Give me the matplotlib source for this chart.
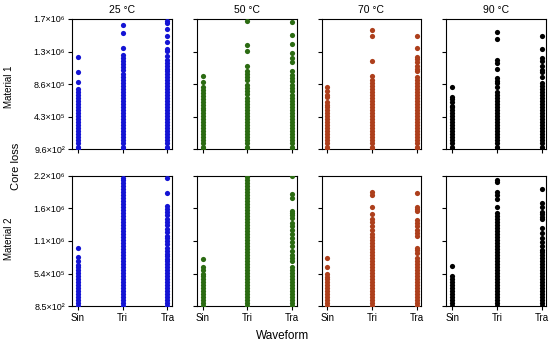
import numpy as np
import matplotlib
matplotlib.use("Agg")
import matplotlib.pyplot as plt
from matplotlib.ticker import FuncFormatter

plt.rcParams['font.family'] = ['Liberation Sans', 'DejaVu Sans']

unit = 1e5  # values below are read in units of 1e5

waveforms = ['Sin', 'Tri', 'Tra']
temps = ['25 °C', '50 °C', '70 °C', '90 °C']
materials = ['Material 1', 'Material 2']
colors = ['#1414d4', '#2b6b12', '#ad3f1c', '#000000']

# Material 1
m1_25_sin = [0.01, 0.4, 0.8, 1.2, 1.6, 2.0, 2.4, 2.8, 3.2, 3.6, 4.0, 4.4, 4.8, 5.2, 5.6, 6.0, 6.4, 6.8, 7.2, 7.6, 8.0,
             8.9, 10.2, 12.2]
m1_25_tri = [0.01, 0.4, 0.8, 1.2, 1.6, 2.0, 2.4, 2.8, 3.2, 3.6, 4.0, 4.4, 4.8, 5.2, 5.6, 6.0, 6.4, 6.8, 7.2, 7.6, 8.0,
             8.4, 8.8, 9.2, 9.6, 10.0, 10.5, 10.9, 11.3, 11.6, 12.0, 12.4, 13.4, 15.4, 16.4]
m1_25_tra = [0.01, 0.4, 0.8, 1.2, 1.6, 2.0, 2.4, 2.8, 3.2, 3.6, 4.0, 4.4, 4.8, 5.2, 5.6, 6.0, 6.4, 6.8, 7.2, 7.6, 8.0,
             8.4, 8.8, 9.2, 9.6, 10.0, 10.3, 10.6, 11.0, 11.4, 11.8, 12.3, 13.0, 13.3, 14.2, 15.0, 15.9, 16.7, 16.9]
m1_50_sin = [0.01, 0.4, 0.8, 1.2, 1.6, 2.0, 2.4, 2.8, 3.2, 3.6, 4.0, 4.4, 4.8, 5.2,
             5.5, 5.9, 6.3, 6.7, 7.1, 7.5, 7.9, 8.2, 8.9, 9.7]
m1_50_tri = [0.01, 0.4, 0.8, 1.2, 1.6, 2.0, 2.4, 2.8, 3.2, 3.6, 4.0, 4.4, 4.8, 5.2, 5.6, 6.0, 6.4, 6.8,
             7.3, 7.7, 8.1, 8.5, 9.1, 9.6, 9.9, 10.4, 11.0, 13.0, 13.8, 16.9]
m1_50_tra = [0.01, 0.4, 0.8, 1.2, 1.6, 2.0, 2.4, 2.8, 3.2, 3.6, 4.0, 4.4, 4.8, 5.2, 5.6, 6.0, 6.4, 6.8, 7.2,
             7.7, 8.1, 8.5, 9.0, 9.4, 9.8, 10.3, 11.5, 12.0, 12.7, 13.9, 15.1, 16.8]
m1_70_sin = [0.01, 0.4, 0.8, 1.2, 1.6, 2.0, 2.4, 2.8, 3.2, 3.6, 4.0, 4.4, 4.8, 5.2,
             5.6, 5.9, 6.3, 6.9, 7.2, 7.7, 8.3]
m1_70_tri = [0.01, 0.4, 0.8, 1.2, 1.6, 2.0, 2.4, 2.8, 3.2, 3.6, 4.0, 4.4, 4.8, 5.2, 5.6, 6.0, 6.4, 6.8, 7.2, 7.6, 8.0,
             8.4, 8.8, 9.2, 9.7, 11.6, 15.0, 15.8]
m1_70_tra = [0.01, 0.4, 0.8, 1.2, 1.6, 2.0, 2.4, 2.8, 3.2, 3.6, 4.0, 4.4, 4.8, 5.2, 5.6, 6.0, 6.4, 6.8, 7.2, 7.6, 8.0,
             8.4, 8.8, 9.2, 9.6, 10.3, 10.6, 11.0, 11.5, 11.9, 12.2, 13.4, 15.0]
m1_90_sin = [0.01, 0.4, 0.8, 1.2, 1.6, 2.0, 2.4, 2.8, 3.2, 3.6, 4.0, 4.4, 4.8, 5.2,
             5.6, 5.8, 6.3, 6.6, 6.9, 8.3]
m1_90_tri = [0.01, 0.4, 0.8, 1.2, 1.6, 2.0, 2.4, 2.8, 3.2, 3.6, 4.0, 4.4, 4.8, 5.2, 5.6, 6.0, 6.4, 6.8, 7.2, 7.6,
             8.2, 8.7, 9.0, 9.4, 10.6, 11.4, 11.8, 14.6, 15.5]
m1_90_tra = [0.01, 0.4, 0.8, 1.2, 1.6, 2.0, 2.4, 2.8, 3.2, 3.6, 4.0, 4.4, 4.8, 5.2, 5.6, 6.0, 6.4, 6.8, 7.2, 7.6,
             8.0, 8.4, 8.8, 9.5, 10.2, 10.5, 11.0, 11.6, 12.0, 13.2, 14.9]

# Material 2
m2_25_sin = [0.01, 0.5, 1.0, 1.5, 2.0, 2.5, 3.0, 3.5, 4.0, 4.5,
             5.0, 5.5, 6.0, 6.5, 6.9, 7.5, 8.1, 9.7]
m2_25_tri = [0.01, 0.5, 1.0, 1.5, 2.0, 2.5, 3.0, 3.5, 4.0, 4.5, 5.0, 5.5, 6.0, 6.5, 7.0, 7.5, 8.0, 8.5, 9.0, 9.5,
             10.0, 10.5, 11.0, 11.5, 12.0, 12.5, 13.0, 13.5, 14.0, 14.5, 15.0, 15.5, 16.0, 16.5, 17.0, 17.5,
             18.0, 18.5, 19.0, 19.5, 20.0, 20.5, 21.0, 21.3]
m2_25_tra = [0.01, 0.5, 1.0, 1.5, 2.0, 2.5, 3.0, 3.5, 4.0, 4.5, 5.0, 5.5, 6.0, 6.5, 7.0, 7.5,
             7.9, 8.3, 8.7, 9.2, 9.7, 10.3, 10.9, 11.3, 11.7, 12.3, 12.9, 13.5, 14.0, 14.5, 15.1, 15.7,
             16.2, 16.7, 18.8, 21.3]
m2_50_sin = [0.01, 0.5, 1.0, 1.5, 2.0, 2.5, 3.0, 3.5, 4.0, 4.5, 5.0,
             5.4, 6.0, 6.5, 7.8]
m2_50_tri = [0.01, 0.5, 1.0, 1.5, 2.0, 2.5, 3.0, 3.5, 4.0, 4.5, 5.0, 5.5, 6.0, 6.5, 7.0, 7.5, 8.0, 8.5, 9.0, 9.5,
             10.0, 10.5, 11.0, 11.5, 12.0, 12.5, 13.0, 13.5, 14.0, 14.5, 15.0, 15.5, 16.0, 16.5, 17.0, 17.5,
             18.0, 18.5, 19.0, 19.5, 20.0, 20.5, 21.0, 21.5]
m2_50_tra = [0.01, 0.5, 1.0, 1.5, 2.0, 2.5, 3.0, 3.5, 4.0, 4.5, 5.0, 5.5, 6.0, 6.5,
             7.5, 8.0, 8.5, 9.2, 10.0, 10.7, 11.4, 12.0, 12.6, 13.3, 13.9, 14.6, 15.1, 15.5, 15.9, 17.9,
             18.7, 21.6]
m2_70_sin = [0.01, 0.5, 1.0, 1.5, 2.0, 2.5, 3.0, 3.5, 4.0, 4.5,
             4.9, 5.3, 6.5, 8.0]
m2_70_tri = [0.01, 0.5, 1.0, 1.5, 2.0, 2.5, 3.0, 3.5, 4.0, 4.5, 5.0, 5.5, 6.0, 6.5, 7.0, 7.5, 8.0, 8.5, 9.0, 9.5,
             10.0, 10.5, 11.0, 11.5, 12.0, 12.7, 13.4, 14.0, 14.5, 15.3, 16.4, 18.4, 18.9]
m2_70_tra = [0.01, 0.5, 1.0, 1.5, 2.0, 2.5, 3.0, 3.5, 4.0, 4.5, 5.0, 5.5, 6.0, 6.5, 7.0, 7.5, 8.0,
             8.8, 9.3, 9.6, 11.7, 12.1, 12.7, 13.3, 13.9, 14.4, 15.9, 16.2, 16.4, 18.8]
m2_90_sin = [0.01, 0.5, 1.0, 1.5, 2.0, 2.5, 3.0, 3.5,
             4.0, 4.5, 5.1, 6.6]
m2_90_tri = [0.01, 0.5, 1.0, 1.5, 2.0, 2.5, 3.0, 3.5, 4.0, 4.5, 5.0, 5.5, 6.0, 6.5, 7.0, 7.5, 8.0, 8.5, 9.0, 9.5,
             10.0, 10.5, 11.0, 11.5, 12.0, 12.5, 13.0, 13.5, 14.0, 14.5, 15.0, 15.5,
             16.5, 17.8, 18.4, 18.9, 20.7, 21.0]
m2_90_tra = [0.01, 0.5, 1.0, 1.5, 2.0, 2.5, 3.0, 3.5, 4.0, 4.5, 5.0, 5.5, 6.0, 6.5, 7.0, 7.5, 8.0, 8.5,
             9.0, 9.4, 10.0, 10.7, 11.4, 12.2, 13.0, 14.5, 14.9, 15.3, 15.7, 16.5, 17.1, 19.4]

panels = [
    [[m1_25_sin, m1_25_tri, m1_25_tra], [m1_50_sin, m1_50_tri, m1_50_tra],
     [m1_70_sin, m1_70_tri, m1_70_tra], [m1_90_sin, m1_90_tri, m1_90_tra]],
    [[m2_25_sin, m2_25_tri, m2_25_tra], [m2_50_sin, m2_50_tri, m2_50_tra],
     [m2_70_sin, m2_70_tri, m2_70_tra], [m2_90_sin, m2_90_tri, m2_90_tra]],
]
row_limits = [(960, 1.72e6), (850, 2.17e6)]

SUP = str.maketrans('0123456789-', '⁰¹²³⁴⁵⁶⁷⁸⁹⁻')


def sci(v, pos=None):
    e = int(np.floor(np.log10(v)))
    m = v / 10 ** e
    return f'{m:.1f}×10' + str(e).translate(SUP)


fig, axes = plt.subplots(2, 4, figsize=(5.5, 3.44), dpi=100, sharey='row')
fig.subplots_adjust(left=0.131, right=0.993, top=0.945, bottom=0.11, wspace=0.25, hspace=0.2)

for r in range(2):
    lo, hi = row_limits[r]
    for c in range(4):
        ax = axes[r, c]
        for k, vals in enumerate(panels[r][c]):
            y = np.array(vals) * unit
            ax.scatter(np.full(len(y), k), y, s=14, color=colors[c], linewidths=0, zorder=3)
        ax.set_xlim(-0.13, 2.1)
        ax.set_ylim(lo, hi)
        ax.set_yticks(np.linspace(lo, hi, 5))
        ax.yaxis.set_major_formatter(FuncFormatter(sci))
        ax.set_xticks([0, 1, 2])
        if r == 1:
            ax.set_xticklabels(waveforms)
        else:
            ax.set_xticklabels([])
        if c > 0:
            ax.tick_params(axis='y', labelleft=False)
        ax.tick_params(direction='out', length=3, width=0.8, labelsize=6.5, pad=2)
        ax.tick_params(axis='x', labelsize=7)
        for sp in ax.spines.values():
            sp.set_linewidth(0.8)
        if r == 0:
            ax.set_title(temps[c], fontsize=7.5, pad=4)

fig.text(0.017, 0.747, materials[0], rotation=90, ha='center', va='center', fontsize=7)
fig.text(0.017, 0.305, materials[1], rotation=90, ha='center', va='center', fontsize=7)
fig.text(0.029, 0.515, 'Core loss', rotation=90, ha='center', va='center', fontsize=8)
fig.text(0.513, 0.022, 'Waveform', ha='center', va='center', fontsize=8.5)

fig.savefig('out.png', dpi=100)
